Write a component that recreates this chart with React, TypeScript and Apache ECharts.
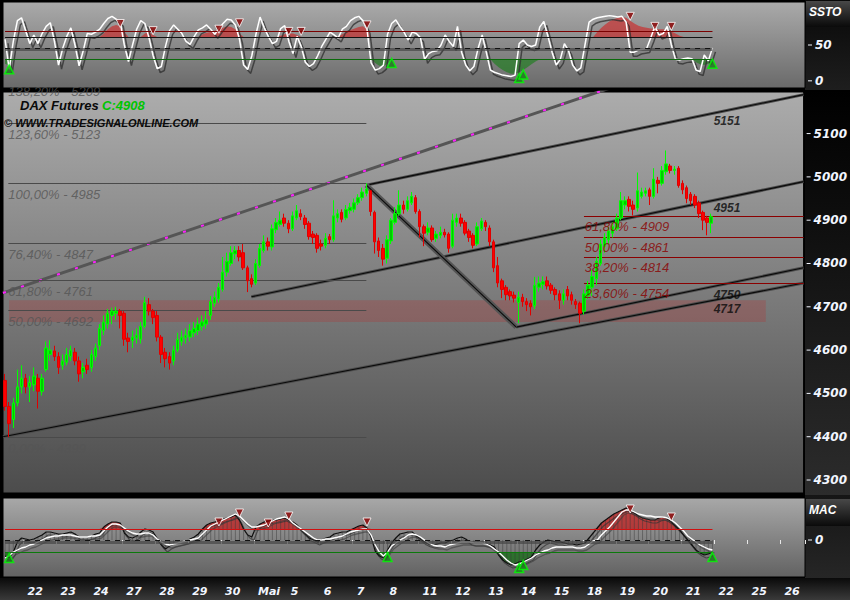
import React, { useEffect, useRef } from "react";
import * as echarts from "echarts";

// ---------------- data ----------------
const SLOTS = 195;
const DAY_START = 5;
const BARS_PER_DAY = 8;
const dayLabels = ["22", "23", "24", "27", "28", "29", "30", "Mai", "5", "6", "7", "8", "11", "12", "13", "14", "15", "18", "19", "20", "21", "22", "25", "26"];

const opens = [4530, 4470, 4440, 4478, 4515, 4535, 4515, 4520, 4535, 4505,
  4555, 4590, 4598, 4585, 4565, 4572, 4585, 4595, 4575, 4550,
  4565, 4560, 4585, 4610, 4645, 4660, 4680, 4685, 4690, 4685,
  4628, 4622, 4628, 4625, 4655, 4705, 4690, 4680, 4630, 4595,
  4585, 4575, 4600, 4620, 4628, 4630, 4640, 4645, 4655, 4660,
  4680, 4708, 4718, 4740, 4780, 4800, 4822, 4830, 4825, 4790,
  4765, 4755, 4795, 4830, 4850, 4838, 4878, 4890, 4905, 4893,
  4880, 4905, 4915, 4905, 4893, 4868, 4865, 4845, 4842, 4862,
  4855, 4905, 4918, 4905, 4922, 4925, 4940, 4952, 4962, 4968,
  4918, 4852, 4835, 4812, 4852, 4895, 4915, 4935, 4925, 4940,
  4952, 4920, 4885, 4872, 4882, 4858, 4865, 4872, 4868, 4840,
  4895, 4905, 4895, 4875, 4865, 4845, 4880, 4895, 4882, 4850,
  4795, 4760, 4745, 4735, 4727, 4710, 4722, 4712, 4708, 4702,
  4745, 4752, 4760, 4750, 4740, 4730, 4715, 4740, 4728, 4712,
  4708, 4690, 4725, 4745, 4765, 4800, 4840, 4855, 4870, 4880,
  4905, 4935, 4948, 4935, 4928, 4955, 4962, 4970, 4955, 4992,
  4985, 5012, 5025, 5015, 5020, 4985, 4975, 4960, 4955, 4940,
  4918, 4905, 4893];
const closes = [4470, 4430, 4478, 4515, 4535, 4515, 4525, 4540, 4505, 4535,
  4605, 4600, 4585, 4560, 4575, 4590, 4600, 4575, 4545, 4560,
  4555, 4590, 4605, 4650, 4665, 4685, 4690, 4690, 4680, 4625,
  4620, 4630, 4635, 4655, 4710, 4690, 4675, 4630, 4590, 4580,
  4570, 4600, 4625, 4630, 4635, 4645, 4650, 4660, 4665, 4670,
  4712, 4722, 4745, 4780, 4805, 4825, 4830, 4815, 4790, 4760,
  4752, 4800, 4835, 4850, 4840, 4880, 4895, 4900, 4893, 4880,
  4910, 4922, 4908, 4890, 4862, 4860, 4835, 4840, 4858, 4855,
  4910, 4915, 4902, 4925, 4930, 4940, 4952, 4965, 4972, 4920,
  4850, 4830, 4810, 4855, 4900, 4915, 4935, 4925, 4945, 4955,
  4920, 4885, 4870, 4882, 4855, 4868, 4872, 4866, 4835, 4900,
  4905, 4893, 4870, 4860, 4842, 4885, 4898, 4885, 4850, 4790,
  4755, 4740, 4728, 4725, 4720, 4722, 4712, 4705, 4700, 4750,
  4755, 4758, 4748, 4738, 4728, 4715, 4730, 4725, 4715, 4705,
  4685, 4730, 4750, 4770, 4805, 4845, 4860, 4875, 4885, 4905,
  4945, 4945, 4932, 4925, 4968, 4965, 4968, 4955, 4995, 4985,
  5015, 5030, 5015, 5018, 4980, 4970, 4950, 4945, 4935, 4915,
  4900, 4895, 4908];
const lows = [4460, 4399, 4420, 4470, 4500, 4500, 4480, 4505, 4465, 4495,
  4550, 4575, 4575, 4545, 4555, 4565, 4575, 4565, 4527, 4535,
  4545, 4550, 4575, 4600, 4635, 4650, 4660, 4670, 4650, 4610,
  4595, 4605, 4615, 4615, 4650, 4680, 4660, 4620, 4570, 4560,
  4555, 4565, 4595, 4610, 4615, 4620, 4630, 4635, 4645, 4650,
  4670, 4700, 4710, 4735, 4770, 4795, 4810, 4805, 4785, 4734,
  4745, 4750, 4790, 4825, 4830, 4830, 4870, 4885, 4885, 4870,
  4875, 4900, 4900, 4880, 4855, 4845, 4825, 4830, 4835, 4845,
  4850, 4895, 4895, 4900, 4915, 4918, 4935, 4945, 4955, 4910,
  4823, 4815, 4795, 4800, 4845, 4890, 4910, 4915, 4920, 4935,
  4915, 4860, 4840, 4865, 4850, 4850, 4858, 4860, 4825, 4835,
  4885, 4885, 4865, 4850, 4835, 4840, 4875, 4875, 4840, 4780,
  4745, 4720, 4715, 4715, 4710, 4662, 4700, 4690, 4680, 4695,
  4735, 4740, 4740, 4730, 4715, 4695, 4705, 4715, 4705, 4695,
  4662, 4682, 4718, 4725, 4750, 4795, 4825, 4845, 4860, 4875,
  4900, 4925, 4920, 4911, 4920, 4950, 4955, 4935, 4950, 4962,
  4980, 5005, 5008, 5005, 4975, 4960, 4939, 4935, 4928, 4905,
  4877, 4865, 4870];
const highs = [4545, 4480, 4490, 4555, 4565, 4545, 4540, 4560, 4545, 4545,
  4620, 4623, 4610, 4595, 4590, 4605, 4610, 4605, 4585, 4570,
  4580, 4600, 4615, 4660, 4680, 4695, 4698, 4700, 4695, 4690,
  4640, 4645, 4650, 4665, 4723, 4720, 4695, 4690, 4635, 4605,
  4595, 4610, 4640, 4645, 4650, 4660, 4665, 4675, 4680, 4690,
  4725, 4735, 4755, 4815, 4825, 4840, 4840, 4840, 4845, 4795,
  4775, 4810, 4845, 4865, 4860, 4890, 4905, 4920, 4915, 4900,
  4920, 4935, 4925, 4912, 4898, 4875, 4870, 4855, 4870, 4868,
  4946, 4925, 4925, 4935, 4940, 4950, 4960, 4975, 4985, 4970,
  4922, 4860, 4845, 4865, 4905, 4930, 4969, 4945, 4955, 4965,
  4958, 4925, 4890, 4895, 4888, 4875, 4885, 4880, 4872, 4915,
  4915, 4915, 4900, 4880, 4870, 4895, 4905, 4900, 4888, 4855,
  4815, 4765, 4750, 4740, 4735, 4735, 4730, 4720, 4715, 4769,
  4770, 4770, 4770, 4755, 4745, 4738, 4740, 4748, 4735, 4718,
  4712, 4740, 4760, 4785, 4815, 4855, 4870, 4885, 4895, 4915,
  4965, 4955, 4955, 4945, 5010, 4975, 4975, 4975, 5020, 5000,
  5025, 5061, 5030, 5025, 5025, 4992, 4980, 4965, 4960, 4945,
  4922, 4910, 4915];
const lastClose = 4908;

const sstoK = [58, 16, 55, 84, 88, 70, 52, 64, 52, 66,
  76, 81, 55, 22, 45, 62, 74, 50, 21, 42,
  66, 65, 68, 72, 80, 87, 90, 86, 82, 50,
  27, 50, 72, 84, 80, 60, 35, 17, 20, 48,
  70, 78, 72, 66, 55, 51, 62, 71, 74, 78,
  72, 65, 73, 80, 86, 85, 78, 58, 22, 16,
  35, 65, 89, 74, 62, 52, 55, 73, 77, 55,
  38, 62, 48, 26, 20, 24, 35, 48, 58, 68,
  64, 60, 72, 76, 84, 88, 90, 84, 72, 25,
  15, 17, 22, 65, 80, 85, 76, 68, 57, 68,
  66, 60, 30, 38, 41, 42, 50, 64, 55, 48,
  76, 40, 22, 14, 20, 45, 64, 40, 15, 12,
  10, 8, 7, 6, 8, 52, 57, 50, 48, 50,
  75, 83, 62, 40, 22, 30, 52, 42, 22, 14,
  18, 50, 82, 86, 88, 89, 90, 91, 90, 89,
  90, 82, 40, 40, 43, 44, 45, 60, 76, 64,
  66, 76, 50, 30, 29, 31, 32, 31, 15, 13,
  36, 28, 46];
const sstoUpperLevel = 69;
const sstoSignalLevel = 61;
const sstoMidLevel = 46;
const sstoLowerLevel = 30;
const sstoRedSegments = [
  { start: 23, values: [61, 66, 72, 76, 78, 76, 68, 61] },
  { start: 33, values: [61, 66, 68, 64, 61] },
  { start: 47, values: [61, 65, 67, 68, 70, 72, 74, 76, 75, 72, 66, 61] },
  { start: 66, values: [61, 63, 65, 66, 66, 64, 61] },
  { start: 80, values: [61, 62, 65, 68, 71, 73, 75, 76, 72, 61] },
  { start: 143, values: [61, 68, 74, 79, 83, 86, 88, 89, 88, 84, 80, 77, 75, 74, 73, 73, 72, 72, 71, 69, 66, 63, 61] },
];
const sstoGreenSegments = [
  { start: 0, values: [24, 21, 30] },
  { start: 89, values: [30, 25, 21, 20, 24, 30] },
  { start: 118, values: [30, 24, 19, 15, 12, 10, 10, 12, 15, 19, 23, 27, 30] },
  { start: 167, values: [30, 26, 23, 22, 24, 27] },
];
const sstoDownMarks = [[28, 80], [36, 70], [52, 72], [57, 81], [69, 69], [72, 69], [88, 78], [152, 90], [158, 76], [162, 76]];
const sstoUpMarks = [[1, 16], [94, 25], [125, 4], [126, 9], [172, 24]];

const macdLine = [-16, -18, -12, -2, 2, 1, 0, 1, 3, 5,
  8, 8, 7, 6, 6, 7, 8, 6, 3, 3,
  3, 4, 6, 7, 13, 16, 18, 18, 17, 7,
  3, 2, 4, 8, 11, 10, 8, 1, -5, -9,
  -6, -4, -3, -2, -1, 1, 3, 6, 11, 15,
  17, 18, 19, 21, 22, 23, 25, 20, 11, 5,
  3, 13, 16, 18, 19, 20, 20, 21, 22, 20,
  18, 15, 10, 6, 2, 0, -2, 0, 2, 3,
  6, 7, 8, 8, 10, 12, 14, 15, 12, 3,
  -11, -16, -18, -10, -3, 2, 6, 7, 8, 8,
  4, 1, -2, -4, -5, -4, -3, -3, -1, 0,
  2, 3, 1, -2, -3, -3, -3, -4, -5, -7,
  -15, -20, -23, -25, -24, -22, -21, -19, -17, -10,
  -5, -2, 0, -1, -2, -2, -3, -4, -4, -5,
  -4, -3, 2, 7, 12, 17, 20, 23, 26, 28,
  30, 32, 29, 27, 24, 22, 21, 20, 20, 22,
  23, 21, 18, 14, 10, 5, 0, -5, -10, -13,
  -15, -14, -12];
const signalLine = [-18, -16, -12, -10, -8, -7, -5, -4, -2, 0,
  2, 3, 4, 4, 5, 5, 5, 4, 3, 3,
  3, 4, 4, 5, 9, 13, 16, 16, 15, 12,
  9, 7, 6, 6, 7, 7, 5, 1, -2, -4,
  -5, -4, -3, -2, -1, 0, 1, 2, 6, 10,
  14, 16, 18, 20, 22, 24, 26, 24, 20, 16,
  13, 13, 14, 15, 17, 19, 21, 22, 23, 21,
  17, 14, 11, 8, 5, 2, 0, 0, 1, 1,
  2, 3, 4, 6, 8, 9, 10, 11, 11, 5,
  -5, -12, -16, -12, -6, -3, 0, 2, 5, 6,
  5, 3, 0, -3, -5, -6, -6, -7, -5, -4,
  -3, -2, -2, -2, -3, -3, -3, -4, -6, -9,
  -12, -16, -20, -23, -25, -24, -22, -20, -18, -15,
  -13, -11, -10, -8, -7, -7, -7, -7, -7, -8,
  -8, -7, -4, -1, 0, 5, 9, 13, 18, 23,
  28, 30, 30, 28, 26, 25, 24, 24, 23, 23,
  23, 22, 20, 17, 13, 9, 4, 1, -2, -5,
  -7, -9, -10];
const macdUpperLevel = 11;
const macdLowerLevel = -12;
const macdDownMarks = [[52, 18], [57, 27], [64, 17], [69, 24], [88, 18], [152, 31], [162, 23]];
const macdUpMarks = [[1, -18], [93, -17], [125, -28], [126, -25], [172, -17]];

const leftFibLevels: [string, number][] = [["138,20%", 5209], ["123,60%", 5123], ["100,00%", 4985], ["76,40%", 4847], ["61,80%", 4761], ["50,00%", 4692], ["0,00%", 4399]];
const leftFibSpan = [0.8, 88];
const rightFibLevels: [string, number][] = [["61,80%", 4909], ["50,00%", 4861], ["38,20%", 4814], ["23,60%", 4754]];
const rightFibSpan = [141, 194.5];
const zoneBand = [4665, 4715];
const zoneSpan = [0.96, 185.3];

const trendUpper = [[88, 4981], [194.5, 5190]];
const trendMiddle = [[60, 4723], [194.5, 4989]];
const trendLow1 = [[124.5, 4653], [194.5, 4790]];
const trendLow2 = [[-0.5, 4400], [194.5, 4755]];
const trendDown = [[88, 4981], [124.5, 4653]];
const trendOuter = [[-0.5, 4732], [194.5, 5356]];
const trendValueLabels = [5151, 4951, 4750, 4717];
const trendLabelAt = 172.6;

// ---------------- helpers ----------------
const FONT = "DejaVu Sans";
const FONT2 = "Liberation Sans";

const vgrad = (stops: [number, string][]) =>
  new echarts.graphic.LinearGradient(0, 0, 0, 1, stops.map(([offset, color]) => ({ offset, color })));

const isDayStart = (i: number) => {
  const k = (i - DAY_START) / BARS_PER_DAY;
  return Number.isInteger(k) && k >= 0 && k < dayLabels.length;
};
const slotIds = Array.from({ length: SLOTS }, (_, i) => String(i));

function segmentsToSeries(segs: { start: number; values: number[] }[]) {
  const out: (number | null)[] = new Array(SLOTS).fill(null);
  segs.forEach((s) => s.values.forEach((v, j) => { out[s.start + j] = v; }));
  return out;
}
function bandFill(arr: number[], level: number, above: boolean) {
  const inside = (x: number | undefined) => x != null && (above ? x > level : x < level);
  return arr.map((v, i) => {
    if (inside(v)) return v;
    if (inside(arr[i - 1]) || inside(arr[i + 1])) return level;
    return null;
  });
}

const axisLabelRich = (color: string) => ({
  t: { width: 4, height: 1, backgroundColor: color },
  n: { padding: [0, 0, 0, 3] },
});

function buildOption() {
  const candles = opens.map((o, i) => [o, closes[i], lows[i], highs[i]]);
  const yLabelBase = {
    margin: 3,
    color: "#f2f6ff",
    fontFamily: FONT,
    fontStyle: "italic",
    fontWeight: "bold",
    fontSize: 12,
    rich: axisLabelRich("#f2f6ff"),
  };
  const hiddenCat = (gridIndex: number) => ({
    type: "category", gridIndex, data: slotIds, boundaryGap: true, show: false,
  });

  const fibMarkLines = [
    ...leftFibLevels.filter(([, v]) => v <= 5196).map(([, v]) => [
      { coord: [leftFibSpan[0], v], lineStyle: { color: "#4a4a4a", width: 1, type: "solid" } },
      { coord: [leftFibSpan[1], v] },
    ]),
    ...rightFibLevels.map(([, v]) => [
      { coord: [rightFibSpan[0], v], lineStyle: { color: "#8b0000", width: 1.2, type: "solid" } },
      { coord: [rightFibSpan[1], v] },
    ]),
  ];

  const trendPair = (data: number[][], under: any, over: any) => [
    { type: "line", xAxisIndex: 2, yAxisIndex: 1, data, showSymbol: false, silent: true, z: 3, lineStyle: under },
    { type: "line", xAxisIndex: 2, yAxisIndex: 1, data, showSymbol: false, silent: true, z: 3, lineStyle: over },
  ];
  const grayUnder = { color: "#4c4c4c", width: 3 };
  const blackOver = { color: "#0a0a0a", width: 1.1 };

  const levelLine = (y0: number, x1: number, color: string, width: number, type: any = "solid") => [
    { coord: [0, y0], lineStyle: { color, width, type } },
    { coord: [x1, y0] },
  ];
  const lastIdx = closes.length - 1;

  const labelSeries = (items: any[], color: string, offsetY: number, weight: string, size: number) => ({
    type: "scatter", xAxisIndex: 2, yAxisIndex: 1, clip: false, symbolSize: 0, silent: true, z: 8,
    data: items,
    label: {
      show: true, position: "right", distance: 0, offset: [0, offsetY], formatter: "{b}",
      color, fontFamily: FONT2, fontStyle: "italic", fontWeight: weight, fontSize: size,
    },
  });

  return {
    animation: false,
    backgroundColor: "#000",
    grid: [
      { left: 3, top: 2, width: 802, height: 86, show: true, backgroundColor: vgrad([[0, "#aaaaaa"], [1, "#6a6a6a"]]), borderColor: "#000", borderWidth: 1 },
      { left: 3, top: 92, width: 802, height: 401, show: true, backgroundColor: vgrad([[0, "#acacac"], [1, "#4c4c4c"]]), borderColor: "#000", borderWidth: 1 },
      { left: 3, top: 498, width: 802, height: 79, show: true, backgroundColor: vgrad([[0, "#a8a8a8"], [1, "#626262"]]), borderColor: "#000", borderWidth: 1 },
    ],
    xAxis: [
      hiddenCat(0),
      hiddenCat(1),
      { type: "value", gridIndex: 1, min: -0.5, max: SLOTS - 0.5, show: false },
      {
        type: "category", gridIndex: 2, data: slotIds, boundaryGap: true,
        axisLine: { show: false },
        axisTick: { show: true, interval: (i: number) => isDayStart(i), length: 4, lineStyle: { color: "#e8e8e8", width: 1 } },
        axisLabel: {
          interval: (i: number) => isDayStart(i),
          formatter: (_v: string, i: number) => (isDayStart(i) ? dayLabels[(i - DAY_START) / BARS_PER_DAY] : ""),
          align: "left", margin: 9, padding: [0, 0, 0, 2],
          color: "#f2f6ff", fontFamily: FONT, fontStyle: "italic", fontWeight: "bold", fontSize: 11,
        },
        splitLine: { show: false },
      },
    ],
    yAxis: [
      {
        type: "value", gridIndex: 0, position: "right", min: -10, max: 110, interval: 10,
        axisLine: { show: false }, axisTick: { show: false }, splitLine: { show: false },
        axisLabel: { ...yLabelBase, formatter: (v: number) => (v === 0 || v === 50 ? `{t| }{n|${v}}` : "") },
      },
      {
        type: "value", gridIndex: 1, position: "right", min: 4270, max: 5196, interval: 10,
        axisLine: { show: false }, axisTick: { show: false }, splitLine: { show: false },
        axisLabel: { ...yLabelBase, formatter: (v: number) => (v % 100 === 0 ? `{t| }{n|${v}}` : "") },
      },
      {
        type: "value", gridIndex: 2, position: "right", min: -37, max: 42, interval: 1,
        axisLine: { show: false }, axisTick: { show: false }, splitLine: { show: false },
        axisLabel: { ...yLabelBase, formatter: (v: number) => (v === 0 ? `{t| }{n|${v}}` : "") },
      },
    ],
    graphic: [
      { type: "rect", z: -10, shape: { x: 805, y: 0, width: 45, height: 90 }, style: { fill: vgrad([[0, "#080808"], [1, "#1e1e1e"]]) } },
      { type: "rect", z: -10, shape: { x: 805, y: 90, width: 45, height: 405 }, style: { fill: vgrad([[0, "#000000"], [1, "#2c2c2c"]]) } },
      { type: "rect", z: -10, shape: { x: 805, y: 495, width: 45, height: 83 }, style: { fill: vgrad([[0, "#151515"], [1, "#262626"]]) } },
      { type: "rect", z: -10, shape: { x: 0, y: 578, width: 850, height: 22 }, style: { fill: vgrad([[0, "#0a0a0a"], [1, "#3a3a3a"]]) } },
      { type: "rect", z: -9, shape: { x: 806, y: 1, width: 44, height: 26 }, style: { fill: vgrad([[0, "#484848"], [1, "#0a0a0a"]]) } },
      { type: "rect", z: -9, shape: { x: 806, y: 499, width: 44, height: 27 }, style: { fill: vgrad([[0, "#484848"], [1, "#0a0a0a"]]) } },
      { type: "text", z: 50, x: 809, y: 6, style: { text: "SSTO", fill: "#ffffff", font: `italic bold 12px "${FONT2}"` } },
      { type: "text", z: 50, x: 809, y: 504, style: { text: "MAC", fill: "#ffffff", font: `italic bold 12px "${FONT2}"` } },
      {
        type: "text", z: 50, x: 20, y: 99,
        style: {
          text: `{a|DAX Futures} {b|C:${lastClose}}`,
          rich: {
            a: { fill: "#0a0a0a", font: `italic bold 13px "${FONT2}"` },
            b: { fill: "#00c400", font: `italic bold 13px "${FONT2}"` },
          },
        },
      },
      { type: "text", z: 50, x: 4, y: 117, style: { text: "© WWW.TRADESIGNALONLINE.COM", fill: "#0a0a0a", font: `italic bold 11px "${FONT2}"` } },
    ],
    series: [
      // ---------- SSTO ----------
      {
        type: "line", xAxisIndex: 0, yAxisIndex: 0, data: segmentsToSeries(sstoRedSegments), showSymbol: false, silent: true, z: 2,
        lineStyle: { width: 0, opacity: 0 }, areaStyle: { origin: sstoSignalLevel, color: "rgba(210,30,30,0.85)" },
      },
      {
        type: "line", xAxisIndex: 0, yAxisIndex: 0, data: segmentsToSeries(sstoGreenSegments), showSymbol: false, silent: true, z: 2,
        lineStyle: { width: 0, opacity: 0 }, areaStyle: { origin: sstoLowerLevel, color: "rgba(25,125,25,0.9)" },
      },
      {
        type: "line", xAxisIndex: 0, yAxisIndex: 0, data: sstoK, showSymbol: false, silent: true, z: 4,
        lineStyle: { color: "#ffffff", width: 1.5, shadowColor: "rgba(45,45,45,0.75)", shadowOffsetX: 3, shadowOffsetY: 4, shadowBlur: 1 },
        markLine: {
          silent: true, symbol: ["none", "none"], label: { show: false },
          data: [
            levelLine(sstoUpperLevel, lastIdx, "#7a0000", 1.2),
            levelLine(sstoSignalLevel, lastIdx, "#111111", 1.2),
            levelLine(sstoMidLevel - 1.5, lastIdx, "rgba(70,70,70,0.7)", 3),
            levelLine(sstoMidLevel, lastIdx, "#111111", 1, [5, 5]),
            levelLine(sstoLowerLevel, lastIdx, "#0b6a0b", 1.2),
          ],
        },
      },
      {
        type: "scatter", xAxisIndex: 0, yAxisIndex: 0, data: sstoDownMarks, symbol: "triangle", symbolRotate: 180, symbolSize: 8, z: 6, silent: true,
        itemStyle: { color: "#8b0000", borderColor: "#ffffff", borderWidth: 1 },
      },
      {
        type: "scatter", xAxisIndex: 0, yAxisIndex: 0, data: sstoUpMarks, symbol: "triangle", symbolSize: 9, z: 6, silent: true,
        itemStyle: { color: "#1d7a1d", borderColor: "#00ff00", borderWidth: 1.5 },
      },
      // ---------- main ----------
      {
        type: "line", xAxisIndex: 2, yAxisIndex: 1, data: trendLow2, showSymbol: false, silent: true, z: 2,
        lineStyle: grayUnder,
        markArea: {
          silent: true, itemStyle: { color: "rgba(175,55,55,0.3)" },
          data: [[{ coord: [zoneSpan[0], zoneBand[1]] }, { coord: [zoneSpan[1], zoneBand[0]] }]],
        },
        markLine: { silent: true, symbol: ["none", "none"], label: { show: false }, data: fibMarkLines },
      },
      { type: "line", xAxisIndex: 2, yAxisIndex: 1, data: trendLow2, showSymbol: false, silent: true, z: 3, lineStyle: blackOver },
      ...trendPair(trendOuter, { color: "#555555", width: 3 }, { color: "#ff20ff", width: 2, type: [3, 16] }),
      ...trendPair(trendUpper, grayUnder, blackOver),
      ...trendPair(trendMiddle, grayUnder, blackOver),
      ...trendPair(trendLow1, grayUnder, blackOver),
      ...trendPair(trendDown, { color: "#555555", width: 5 }, blackOver),
      {
        type: "candlestick", xAxisIndex: 1, yAxisIndex: 1, data: candles, barWidth: 3, z: 5, silent: true,
        itemStyle: { color: "#00c800", color0: "#ff0000", borderColor: "#00ff00", borderColor0: "#e00000", borderWidth: 1 },
      },
      labelSeries(leftFibLevels.map(([p, v]) => ({
        name: `${p} - ${v}`, value: [leftFibSpan[0], v],
        ...(v > 5196 ? { label: { offset: [0, 5] } } : {}),
      })), "#555555", 11, "normal", 13),
      labelSeries(rightFibLevels.map(([p, v]) => ({ name: `${p} - ${v}`, value: [rightFibSpan[0] + 0.2, v] })), "#8b0000", 10, "normal", 13),
      labelSeries(trendValueLabels.map((v) => ({ name: String(v), value: [trendLabelAt, v] })), "#0a0a0a", 10, "bold", 12),
      // ---------- MACD ----------
      {
        type: "line", xAxisIndex: 3, yAxisIndex: 2, data: bandFill(macdLine, macdUpperLevel, true), showSymbol: false, silent: true, z: 2,
        lineStyle: { width: 0, opacity: 0 }, areaStyle: { origin: macdUpperLevel, color: "rgba(200,10,10,0.9)" },
      },
      {
        type: "line", xAxisIndex: 3, yAxisIndex: 2, data: bandFill(macdLine, macdLowerLevel, false), showSymbol: false, silent: true, z: 2,
        lineStyle: { width: 0, opacity: 0 }, areaStyle: { origin: macdLowerLevel, color: "rgba(10,110,10,0.95)" },
      },
      {
        type: "bar", xAxisIndex: 3, yAxisIndex: 2, data: macdLine, barWidth: 1, silent: true, z: 3,
        itemStyle: { color: "rgba(55,55,55,0.45)" },
      },
      {
        type: "line", xAxisIndex: 3, yAxisIndex: 2, data: macdLine, showSymbol: false, silent: true, z: 4,
        lineStyle: { color: "#111111", width: 1.2, shadowColor: "rgba(50,50,50,0.7)", shadowOffsetX: 2, shadowOffsetY: 3, shadowBlur: 1 },
        markLine: {
          silent: true, symbol: ["none", "none"], label: { show: false },
          data: [
            levelLine(macdUpperLevel, lastIdx, "#d01010", 1.2),
            levelLine(-2, lastIdx, "rgba(70,70,70,0.7)", 3),
            levelLine(0, lastIdx, "#111111", 1, [5, 5]),
            levelLine(macdLowerLevel, lastIdx, "#0b7a0b", 1.2),
          ],
        },
      },
      {
        type: "line", xAxisIndex: 3, yAxisIndex: 2, data: signalLine, showSymbol: false, silent: true, z: 4,
        lineStyle: { color: "#ffffff", width: 1.3, shadowColor: "rgba(60,60,60,0.6)", shadowOffsetX: 2, shadowOffsetY: 3, shadowBlur: 1 },
      },
      {
        type: "scatter", xAxisIndex: 3, yAxisIndex: 2, data: macdDownMarks, symbol: "triangle", symbolRotate: 180, symbolSize: 8, z: 6, silent: true,
        itemStyle: { color: "#8b0000", borderColor: "#ffffff", borderWidth: 1 },
      },
      {
        type: "scatter", xAxisIndex: 3, yAxisIndex: 2, data: macdUpMarks, symbol: "triangle", symbolSize: 9, z: 6, silent: true,
        itemStyle: { color: "#1d7a1d", borderColor: "#00ff00", borderWidth: 1.5 },
      },
    ],
  };
}

export default function App() {
  const ref = useRef<HTMLDivElement>(null);
  useEffect(() => {
    if (!ref.current) return;
    const chart = echarts.init(ref.current, null, { renderer: "svg" });
    chart.setOption(buildOption() as any);
    return () => chart.dispose();
  }, []);
  return (
    <div
      ref={ref}
      style={{ position: "fixed", left: 0, top: 0, width: 850, height: 600, background: "#000" }}
    />
  );
}
